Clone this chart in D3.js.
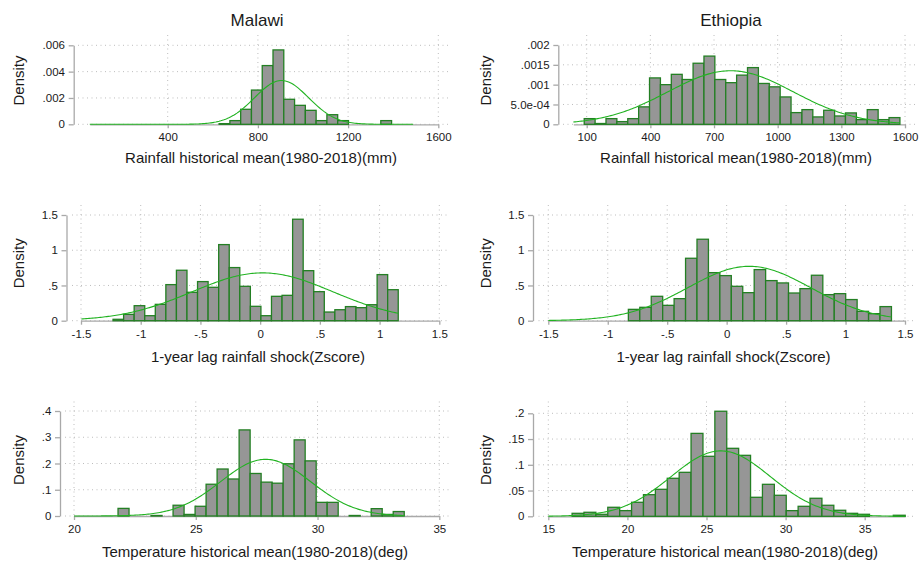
<!DOCTYPE html>
<html><head><meta charset="utf-8">
<script src="https://cdn.jsdelivr.net/npm/d3@7"></script>
<style>body{margin:0;background:#fff}</style>
</head><body>
<svg id="chart" width="919" height="565"></svg>
<script>
// ---------------- DATA ----------------
const countries = ["Malawi", "Ethiopia"];
const xTitles = ["Rainfall historical mean(1980-2018)(mm)", "1-year lag rainfall shock(Zscore)", "Temperature historical mean(1980-2018)(deg)"];
const yTitle = "Density";

// Malawi rainfall (mm), 30 bins
const malawiRainMin = 54.4, malawiRainBinWidth = 47.8;
const malawiRainDensity = [0,0,0,0,0,0,0,0,0,0,0,0,0.00005,0.00028,0.00114,0.0026,0.00446,0.00565,0.0019,0.00144,0.00106,0.00028,0.00073,0.00028,0,0,0,0.00028,0,0];
const malawiRainMean = 905, malawiRainSD = 120;
const malawiRainXTicks = [400, 800, 1200, 1600];
const malawiRainXLabels = ["400", "800", "1200", "1600"];
const malawiRainYTicks = [0, 0.002, 0.004, 0.006];
const malawiRainYLabels = ["0", ".002", ".004", ".006"];

// Ethiopia rainfall (mm)
const ethiopiaRainMin = 37, ethiopiaRainBinWidth = 51.3;
const ethiopiaRainDensity = [0,0.000143,0.00002,0.000143,0.000068,0.000143,0.00044,0.00117,0.001,0.00126,0.00113,0.00154,0.00172,0.00113,0.00105,0.00124,0.00143,0.00103,0.000945,0.00069,0.000295,0.00037,0.000186,0.000354,0.00021,0.000287,0.000118,0.00037,0.000118,0.000169];
const ethiopiaRainMean = 778, ethiopiaRainSD = 295.5;
const ethiopiaRainXTicks = [100, 400, 700, 1000, 1300, 1600];
const ethiopiaRainXLabels = ["100", "400", "700", "1000", "1300", "1600"];
const ethiopiaRainYTicks = [0, 0.0005, 0.001, 0.0015, 0.002];
const ethiopiaRainYLabels = ["0", "5.0e-04", ".001", ".0015", ".002"];

// Malawi 1-year lag rainfall shock (Z)
const malawiShockMin = -1.497, malawiShockBinWidth = 0.08844;
const malawiShockDensity = [0,0,0,0.02,0.09,0.213,0.071,0.232,0.512,0.716,0.403,0.555,0.474,1.08,0.754,0.488,0.204,0.071,0.346,0.36,1.44,0.71,0.412,0.123,0.156,0.2,0.185,0.227,0.654,0.44];
const malawiShockMean = 0.02, malawiShockSD = 0.588;

// Ethiopia 1-year lag rainfall shock (Z)
const ethiopiaShockMin = -1.5, ethiopiaShockBinWidth = 0.0962;
const ethiopiaShockDensity = [0,0,0,0,0,0,0,0.161,0.19,0.346,0.218,0.313,0.886,1.156,0.682,0.64,0.488,0.398,0.725,0.569,0.536,0.393,0.455,0.645,0.37,0.384,0.3,0.133,0.1,0.2];
const ethiopiaShockMean = 0.19, ethiopiaShockSD = 0.517;

const shockXTicks = [-1.5, -1, -0.5, 0, 0.5, 1, 1.5];
const shockXLabels = ["-1.5", "-1", "-.5", "0", ".5", "1", "1.5"];
const shockYTicks = [0, 0.5, 1, 1.5];
const shockYLabels = ["0", ".5", "1", "1.5"];

// Malawi temperature (deg)
const malawiTempMin = 20.0, malawiTempBinWidth = 0.452;
const malawiTempDensity = [0,0,0,0,0.029,0,0,0.002,0,0.041,0.006,0.037,0.121,0.179,0.141,0.328,0.162,0.129,0.125,0.199,0.29,0.21,0.052,0.052,0,0.002,0,0.028,0.006,0.017];
const malawiTempMean = 27.87, malawiTempSD = 1.847;
const malawiTempXTicks = [20, 25, 30, 35];
const malawiTempXLabels = ["20", "25", "30", "35"];
const malawiTempYTicks = [0, 0.1, 0.2, 0.3, 0.4];
const malawiTempYLabels = ["0", ".1", ".2", ".3", ".4"];

// Ethiopia temperature (deg)
const ethiopiaTempMin = 15.0, ethiopiaTempBinWidth = 0.752;
const ethiopiaTempDensity = [0,0,0.0058,0.0078,0.0039,0.0175,0.011,0.0272,0.042,0.0524,0.0738,0.0854,0.161,0.1165,0.204,0.132,0.1184,0.0369,0.0621,0.0408,0.011,0.0194,0.035,0.0214,0.0117,0.0058,0.0039,0,0,0.002];
const ethiopiaTempMean = 25.9, ethiopiaTempSD = 3.14;
const ethiopiaTempXTicks = [15, 20, 25, 30, 35];
const ethiopiaTempXLabels = ["15", "20", "25", "30", "35"];
const ethiopiaTempYTicks = [0, 0.05, 0.1, 0.15, 0.2];
const ethiopiaTempYLabels = ["0", ".05", ".1", ".15", ".2"];

// ---------------- LAYOUT (pixels) ----------------
const panels = [
  { min: malawiRainMin, w: malawiRainBinWidth, dens: malawiRainDensity, mean: malawiRainMean, sd: malawiRainSD,
    xt: malawiRainXTicks, xl: malawiRainXLabels, yt: malawiRainYTicks, yl: malawiRainYLabels,
    xPx: [167.7, 438.3], yPx: [124.3, 45.3], yAxisX: 73.7, left: 78, right: 449, top: 35,
    title: countries[0], titleX: 257, xTitle: xTitles[0], xTitleX: 261, xTitleY: 162.5, yTitleX: 24, yTitleY: 80.5 },
  { min: ethiopiaRainMin, w: ethiopiaRainBinWidth, dens: ethiopiaRainDensity, mean: ethiopiaRainMean, sd: ethiopiaRainSD,
    xt: ethiopiaRainXTicks, xl: ethiopiaRainXLabels, yt: ethiopiaRainYTicks, yl: ethiopiaRainYLabels,
    xPx: [586.7, 905], yPx: [124.3, 45], yAxisX: 558.3, left: 563, right: 915, top: 35,
    title: countries[1], titleX: 731, xTitle: xTitles[0], xTitleX: 736, xTitleY: 162.5, yTitleX: 490.5, yTitleY: 80.5 },
  { min: malawiShockMin, w: malawiShockBinWidth, dens: malawiShockDensity, mean: malawiShockMean, sd: malawiShockSD,
    xt: shockXTicks, xl: shockXLabels, yt: shockYTicks, yl: shockYLabels,
    xPx: [81, 439.3], yPx: [320.7, 215], yAxisX: 66.5, left: 72, right: 449, top: 205,
    xTitle: xTitles[1], xTitleX: 258, xTitleY: 361.5, yTitleX: 24, yTitleY: 263.3 },
  { min: ethiopiaShockMin, w: ethiopiaShockBinWidth, dens: ethiopiaShockDensity, mean: ethiopiaShockMean, sd: ethiopiaShockSD,
    xt: shockXTicks, xl: shockXLabels, yt: shockYTicks, yl: shockYLabels,
    xPx: [548.3, 905], yPx: [320.7, 215], yAxisX: 533, left: 538.5, right: 915, top: 205,
    xTitle: xTitles[1], xTitleX: 723.5, xTitleY: 361.5, yTitleX: 490.5, yTitleY: 263.3 },
  { min: malawiTempMin, w: malawiTempBinWidth, dens: malawiTempDensity, mean: malawiTempMean, sd: malawiTempSD,
    xt: malawiTempXTicks, xl: malawiTempXLabels, yt: malawiTempYTicks, yl: malawiTempYLabels,
    xPx: [74, 439.3], yPx: [516, 411], yAxisX: 60, left: 65, right: 449, top: 401.5,
    xTitle: xTitles[2], xTitleX: 255, xTitleY: 556.5, yTitleX: 24, yTitleY: 460 },
  { min: ethiopiaTempMin, w: ethiopiaTempBinWidth, dens: ethiopiaTempDensity, mean: ethiopiaTempMean, sd: ethiopiaTempSD,
    xt: ethiopiaTempXTicks, xl: ethiopiaTempXLabels, yt: ethiopiaTempYTicks, yl: ethiopiaTempYLabels,
    xPx: [548.3, 864.7], yPx: [516.3, 413.3], yAxisX: 533, left: 538.5, right: 915, top: 401.5,
    xTitle: xTitles[2], xTitleX: 725, xTitleY: 556.5, yTitleX: 490.5, yTitleY: 460 }
];

const FONT = "'Liberation Sans', Arial, Helvetica, sans-serif";
const TEXT = "#1a1a1a";
const AXIS = "#a9a9a9";
const GRID = "#bdbdbd";
const BAR_FILL = "#969696";
const BAR_STROKE = "#237f23";
const CURVE = "#22b322";

const svg = d3.select("#chart");
svg.append("rect").attr("width", 919).attr("height", 565).attr("fill", "#fff");

panels.forEach(p => {
  const g = svg.append("g");
  const nb = p.dens.length;
  const dataMax = p.min + nb * p.w;
  // helper scale through the first/last ticks
  const tA = p.xt[0], tB = p.xt[p.xt.length - 1];
  const helper = d3.scaleLinear().domain([tA, tB]).range(p.xPx);
  const lo = Math.min(p.min, tA), hi = Math.max(dataMax, tB);
  const x = d3.scaleLinear().domain([lo, hi]).range([helper(lo), helper(hi)]);
  const yMax = p.yt[p.yt.length - 1];
  const y = d3.scaleLinear().domain([0, yMax]).range(p.yPx);
  const base = y(0);

  // grid
  g.append("g").selectAll("line.h").data(p.yt).join("line")
    .attr("x1", p.left).attr("x2", p.right)
    .attr("y1", d => y(d)).attr("y2", d => y(d))
    .attr("stroke", GRID).attr("stroke-width", 1).attr("stroke-dasharray", "1,3.5");
  g.append("g").selectAll("line.v").data(p.xt).join("line")
    .attr("x1", d => x(d)).attr("x2", d => x(d))
    .attr("y1", p.top).attr("y2", base)
    .attr("stroke", GRID).attr("stroke-width", 1).attr("stroke-dasharray", "1,3.5");

  // axes
  const xAxis = d3.axisBottom(x).tickValues(p.xt).tickFormat((d, i) => p.xl[i])
    .tickSizeInner(4).tickSizeOuter(0).tickPadding(4.8);
  const gx = g.append("g").attr("transform", `translate(0,${base})`).call(xAxis);
  const yAxis = d3.axisLeft(y).tickValues(p.yt).tickFormat((d, i) => p.yl[i])
    .tickSizeInner(5).tickSizeOuter(0).tickPadding(3.7);
  const gy = g.append("g").attr("transform", `translate(${p.yAxisX},0)`).call(yAxis);
  [gx, gy].forEach(a => {
    a.select(".domain").attr("stroke", AXIS).attr("stroke-width", 1.3);
    a.selectAll(".tick line").attr("stroke", AXIS).attr("stroke-width", 1.3);
    a.selectAll(".tick text").attr("fill", TEXT).style("font-family", FONT).style("font-size", "11.5px");
  });

  // bars
  const bins = p.dens.map((d, i) => ({ x0: p.min + i * p.w, x1: p.min + (i + 1) * p.w, d }));
  g.append("g").selectAll("rect").data(bins.filter(b => b.d > 0)).join("rect")
    .attr("x", b => x(b.x0)).attr("width", b => x(b.x1) - x(b.x0))
    .attr("y", b => y(b.d)).attr("height", b => base - y(b.d))
    .attr("fill", BAR_FILL).attr("stroke", BAR_STROKE).attr("stroke-width", 1.3);

  // normal density overlay
  const pts = d3.range(0, 201).map(k => {
    const v = p.min + (dataMax - p.min) * k / 200;
    const z = (v - p.mean) / p.sd;
    return [v, Math.exp(-0.5 * z * z) / (p.sd * Math.sqrt(2 * Math.PI))];
  });
  g.append("path").datum(pts)
    .attr("d", d3.line().x(d => x(d[0])).y(d => y(d[1])))
    .attr("fill", "none").attr("stroke", CURVE).attr("stroke-width", 1.1);

  // titles
  if (p.title) {
    g.append("text").attr("x", p.titleX).attr("y", 26).attr("text-anchor", "middle")
      .attr("fill", TEXT).style("font-family", FONT).style("font-size", "17px").text(p.title);
  }
  g.append("text").attr("x", p.xTitleX).attr("y", p.xTitleY).attr("text-anchor", "middle")
    .attr("fill", TEXT).style("font-family", FONT).style("font-size", "15px").text(p.xTitle);
  g.append("text").attr("transform", `translate(${p.yTitleX},${p.yTitleY}) rotate(-90)`)
    .attr("text-anchor", "middle")
    .attr("fill", TEXT).style("font-family", FONT).style("font-size", "15px").text(yTitle);
});
</script>
</body></html>
